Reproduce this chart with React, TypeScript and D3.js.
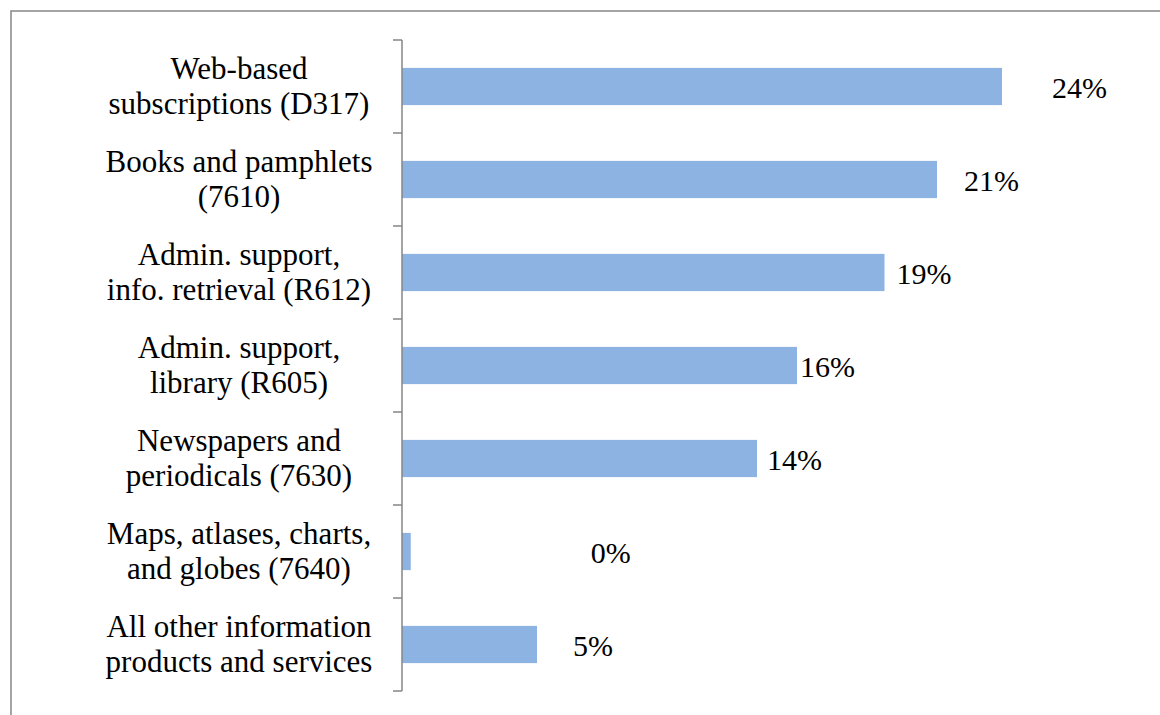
import React from "react";
import * as d3 from "d3";

const categories: string[][] = [
  ["Web-based", "subscriptions (D317)"],
  ["Books and pamphlets", "(7610)"],
  ["Admin. support,", "info. retrieval (R612)"],
  ["Admin. support,", "library (R605)"],
  ["Newspapers and", "periodicals (7630)"],
  ["Maps, atlases, charts,", "and globes (7640)"],
  ["All other information", "products and services"],
];
const values: number[] = [24.0, 21.4, 19.3, 15.8, 14.2, 0.35, 5.4];
const valueLabels: string[] = ["24%", "21%", "19%", "16%", "14%", "0%", "5%"];

// layout-only: manual label gaps from bar end (px)
const labelGaps = [50, 27, 12, 3, 10, 180, 36];

const W = 1160;
const H = 715;
const axisX = 402;
const top = 40;
const bottom = 691;
const FONT = "Liberation Serif";

export default function App() {
  const x = d3.scaleLinear().domain([0, 30]).range([axisX, axisX + 750]);
  const y = d3
    .scaleBand<number>()
    .domain(d3.range(categories.length))
    .range([top, bottom])
    .paddingInner(0.6)
    .paddingOuter(0.3);
  const band = (bottom - top) / categories.length;
  const ticks = d3.range(categories.length + 1).map((i) => top + i * band);

  return (
    <svg
      width={W}
      height={H}
      fontFamily={FONT}
      style={{ position: "absolute", left: 0, top: 0 }}
    >
      <path
        d={`M11,${H + 5}V11H${W + 5}`}
        fill="none"
        stroke="#878787"
        strokeWidth={1.5}
      />
      {values.map((v, i) => (
        <rect
          key={"b" + i}
          x={x(0)}
          y={y(i)!}
          width={x(v) - x(0)}
          height={y.bandwidth()}
          fill="#8DB3E2"
        />
      ))}
      <line x1={axisX} x2={axisX} y1={top} y2={bottom} stroke="#868686" strokeWidth={1.5} />
      {ticks.map((t, i) => (
        <line key={"t" + i} x1={axisX - 9} x2={axisX} y1={t} y2={t} stroke="#868686" strokeWidth={1.5} />
      ))}
      {categories.map((lines, i) => {
        const cy = y(i)! + y.bandwidth() / 2;
        const lh = 34.7;
        return lines.map((ln, j) => (
          <text
            key={"c" + i + "-" + j}
            x={239}
            y={cy + (j - (lines.length - 1) / 2) * lh}
            dy="0.33em"
            fontFamily={FONT}
            fontSize={31}
            textAnchor="middle"
          >
            {ln}
          </text>
        ));
      })}
      {values.map((v, i) => (
        <text
          key={"l" + i}
          x={x(v) + labelGaps[i]}
          y={y(i)! + y.bandwidth() / 2}
          dy="0.38em"
          fontFamily={FONT}
          fontSize={30}
        >
          {valueLabels[i]}
        </text>
      ))}
    </svg>
  );
}
